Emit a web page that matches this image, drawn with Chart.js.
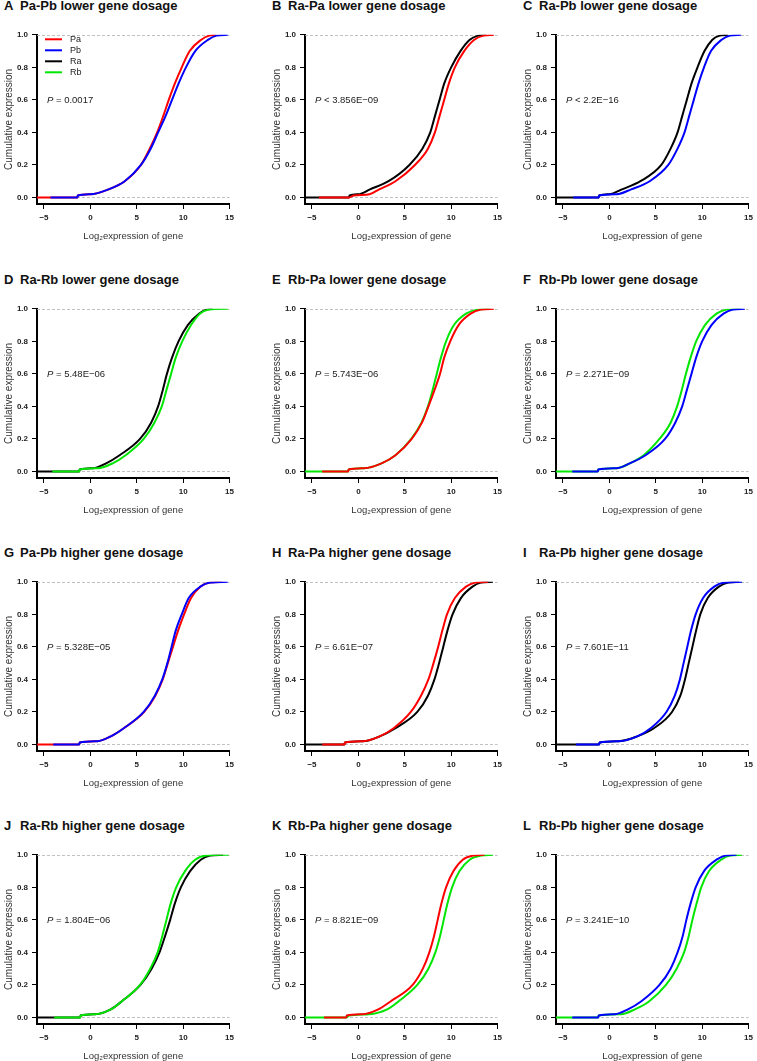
<!DOCTYPE html>
<html lang="en">
<head>
<meta charset="utf-8" />
<title>Cumulative expression by gene dosage</title>
<script src="https://cdn.jsdelivr.net/npm/chart.js@4.4.1/dist/chart.umd.min.js"></script>
<style>
  html, body { margin: 0; padding: 0; background: #fff; }
  body { width: 757px; height: 1061px; position: relative; overflow: hidden; font-family: "Liberation Sans", Arial, sans-serif; }
  .panel { position: absolute; width: 238px; height: 220px; }
  .title { position: absolute; font: bold 13px "Liberation Sans", Arial, sans-serif; line-height: 16px; color: #111; white-space: nowrap; }
  .title .letter { display: inline-block; width: 16px; }
</style>
</head>
<body>
<script>
const LEVELS = [0, 0, 0.012, 0.02, 0.05, 0.1, 0.2, 0.3, 0.4, 0.5, 0.6, 0.7, 0.8, 0.9, 0.97, 0.995, 1.0]
const X_TICKS = [-5, 0, 5, 10, 15]
const Y_TICKS = [0, 0.2, 0.4, 0.6, 0.8, 1.0]

const LETTERS = ['A', 'B', 'C', 'D', 'E', 'F', 'G', 'H', 'I', 'J', 'K', 'L']
const TITLES = [
  'Pa-Pb lower gene dosage', 'Ra-Pa lower gene dosage', 'Ra-Pb lower gene dosage',
  'Ra-Rb lower gene dosage', 'Rb-Pa lower gene dosage', 'Rb-Pb lower gene dosage',
  'Pa-Pb higher gene dosage', 'Ra-Pa higher gene dosage', 'Ra-Pb higher gene dosage',
  'Ra-Rb higher gene dosage', 'Rb-Pa higher gene dosage', 'Rb-Pb higher gene dosage',
]
const P_TEXT = [
  '= 0.0017', '< 3.856E\u221209', '< 2.2E\u221216',
  '= 5.48E\u221206', '= 5.743E\u221206', '= 2.271E\u221209',
  '= 5.328E\u221205', '= 6.61E\u221207', '= 7.601E\u221211',
  '= 1.804E\u221206', '= 8.821E\u221209', '= 3.241E\u221210',
]
// series per panel: [drawn underneath, drawn on top]
const PAIRS = [
  ['Pa', 'Pb'], ['Ra', 'Pa'], ['Ra', 'Pb'],
  ['Ra', 'Rb'], ['Rb', 'Pa'], ['Rb', 'Pb'],
  ['Pa', 'Pb'], ['Ra', 'Pa'], ['Ra', 'Pb'],
  ['Ra', 'Rb'], ['Rb', 'Pa'], ['Rb', 'Pb'],
]

// x (log2 expression) at each level in LEVELS
const A_Pa = [-5.75, -1.4, -1.35, 0.0, 1.95, 3.7, 5.45, 6.4, 7.2, 7.85, 8.45, 9.1, 9.85, 10.7, 11.95, 12.8, 13.6]
const A_Pb = [-4.3, -1.4, -1.35, 0.0, 1.95, 3.7, 5.45, 6.5, 7.3, 8.1, 8.8, 9.5, 10.3, 11.3, 12.7, 13.6, 14.8]
const B_Ra = [-5.75, -1.0, -0.95, 0.0, 1.25, 3.25, 5.5, 6.9, 7.75, 8.25, 8.75, 9.25, 10.0, 11.0, 12.0, 12.9, 13.75]
const B_Pa = [-4.25, -1.0, -0.5, 1.2, 2.25, 4.0, 6.1, 7.5, 8.25, 8.75, 9.25, 9.75, 10.4, 11.4, 12.5, 13.5, 14.6]
const C_Ra = [-5.75, -1.15, -1.1, 0.0, 1.35, 3.35, 5.6, 6.6, 7.35, 7.85, 8.35, 8.85, 9.5, 10.25, 11.1, 11.9, 12.8]
const C_Pb = [-3.9, -1.15, -1.1, 0.8, 2.35, 4.35, 6.35, 7.35, 8.1, 8.6, 9.1, 9.6, 10.2, 10.95, 12.1, 13.0, 14.2]
const D_Ra = [-5.75, -1.2, -1.15, 0.3, 1.7, 3.15, 5.35, 6.55, 7.3, 7.8, 8.25, 8.8, 9.5, 10.5, 11.7, 12.5, 13.2]
const D_Rb = [-4.1, -1.2, -1.15, 0.8, 2.4, 3.8, 5.75, 6.9, 7.7, 8.2, 8.7, 9.2, 9.9, 10.85, 11.8, 12.8, 14.8]
const E_Rb = [-5.75, -1.1, -1.05, 0.6, 2.5, 4.0, 5.7, 6.8, 7.5, 8.0, 8.45, 8.9, 9.45, 10.3, 11.6, 12.8, 14.2]
const E_Pa = [-3.9, -1.1, -1.05, 0.6, 2.5, 4.0, 5.75, 6.85, 7.55, 8.2, 8.8, 9.25, 9.9, 10.8, 12.1, 13.2, 14.6]
const F_Rb = [-5.75, -1.25, -1.2, 0.75, 2.2, 3.7, 5.4, 6.6, 7.3, 7.8, 8.25, 8.75, 9.35, 10.3, 11.55, 12.6, 14.1]
const F_Pb = [-4.0, -1.25, -1.2, 0.75, 2.2, 3.9, 6.0, 7.1, 7.85, 8.35, 8.85, 9.35, 10.0, 11.0, 12.3, 13.3, 14.6]
const G_Pa = [-5.75, -1.2, -1.15, 0.75, 2.2, 3.6, 5.8, 7.0, 7.8, 8.35, 8.9, 9.45, 10.1, 10.85, 11.85, 12.8, 14.2]
const G_Pb = [-4.0, -1.2, -1.15, 0.75, 2.2, 3.6, 5.75, 6.95, 7.75, 8.3, 8.75, 9.2, 9.85, 10.6, 11.85, 12.9, 14.8]
const H_Ra = [-5.75, -1.5, -1.45, 0.5, 2.3, 4.0, 6.35, 7.5, 8.2, 8.7, 9.15, 9.6, 10.15, 11.05, 12.3, 13.2, 14.5]
const H_Pa = [-3.9, -1.5, -1.45, 0.5, 2.3, 3.8, 5.65, 6.75, 7.55, 8.1, 8.6, 9.05, 9.55, 10.4, 11.6, 12.6, 14.0]
const I_Ra = [-5.75, -1.1, -1.05, 1.0, 3.0, 4.8, 6.75, 7.65, 8.15, 8.55, 8.95, 9.35, 9.8, 10.6, 11.8, 12.8, 14.0]
const I_Pb = [-3.6, -1.1, -1.05, 1.0, 3.0, 4.45, 6.15, 7.05, 7.6, 8.0, 8.4, 8.8, 9.3, 10.1, 11.3, 12.4, 14.3]
const J_Ra = [-5.75, -1.1, -1.05, 0.5, 2.2, 3.4, 5.4, 6.6, 7.45, 8.05, 8.6, 9.1, 9.75, 10.75, 11.9, 12.9, 14.3]
const J_Rb = [-3.9, -1.1, -1.05, 0.5, 2.2, 3.4, 5.35, 6.45, 7.25, 7.75, 8.2, 8.65, 9.25, 10.2, 11.3, 12.5, 14.9]
const K_Rb = [-5.75, -1.3, -1.0, 1.15, 3.1, 4.35, 6.35, 7.55, 8.3, 8.8, 9.2, 9.6, 10.1, 10.9, 12.0, 13.2, 14.5]
const K_Pa = [-3.7, -1.3, -1.25, 0.4, 2.15, 3.5, 5.85, 6.95, 7.65, 8.15, 8.55, 8.95, 9.45, 10.25, 11.25, 12.4, 13.6]
const L_Rb = [-5.75, -1.2, -1.15, 1.25, 2.75, 4.3, 6.1, 7.25, 8.05, 8.55, 8.95, 9.4, 9.9, 10.75, 12.05, 13.0, 14.3]
const L_Pb = [-4.0, -1.2, -1.15, 0.6, 2.0, 3.45, 5.4, 6.6, 7.35, 7.9, 8.3, 8.75, 9.3, 10.2, 11.55, 12.5, 13.7]

const CURVES = [
  [A_Pa, A_Pb], [B_Ra, B_Pa], [C_Ra, C_Pb],
  [D_Ra, D_Rb], [E_Rb, E_Pa], [F_Rb, F_Pb],
  [G_Pa, G_Pb], [H_Ra, H_Pa], [I_Ra, I_Pb],
  [J_Ra, J_Rb], [K_Rb, K_Pa], [L_Rb, L_Pb],
]

const COLORS = { Pa: '#ff0000', Pb: '#0000ff', Ra: '#000000', Rb: '#00e600' }
const LEGEND = ['Pa', 'Pb', 'Ra', 'Rb']

// layout (chart-area left edge per column, top per row)
const COL_LEFT = [37, 305, 556]
const ROW_TOP = [34, 308, 581, 854]
const AXIS_W = 37
const AXIS_H = 40
const PANEL_W = 238
const PANEL_H = 220

Chart.defaults.font.family = '"Liberation Sans", Arial, sans-serif'
Chart.defaults.color = '#222'

const refLines = {
  id: 'refLines',
  beforeDatasetsDraw(chart) {
    const { ctx, chartArea: a, scales: { y } } = chart
    ctx.save()
    ctx.strokeStyle = '#b0b0b0'
    ctx.lineWidth = 0.8
    ctx.setLineDash([3, 2])
    for (const v of [0, 1]) {
      const py = Math.round(y.getPixelForValue(v)) + 0.5
      ctx.beginPath()
      ctx.moveTo(a.left, py)
      ctx.lineTo(a.right, py)
      ctx.stroke()
    }
    ctx.restore()
  },
}

const notes = {
  id: 'notes',
  afterDatasetsDraw(chart, args, opts) {
    const { ctx, chartArea: a, scales: { y } } = chart
    ctx.save()
    ctx.fillStyle = '#222'
    ctx.textBaseline = 'middle'
    const py = y.getPixelForValue(0.6)
    ctx.font = 'italic 9.5px "Liberation Sans", Arial, sans-serif'
    ctx.fillText('P', a.left + 10, py)
    const w = ctx.measureText('P ').width
    ctx.font = '9.5px "Liberation Sans", Arial, sans-serif'
    ctx.fillText(opts.p, a.left + 10 + w, py)
    if (opts.legend) {
      ctx.font = '9px "Liberation Sans", Arial, sans-serif'
      LEGEND.forEach((name, i) => {
        const ly = a.top + 4.5 + i * 11
        ctx.strokeStyle = COLORS[name]
        ctx.lineWidth = 2
        ctx.beginPath()
        ctx.moveTo(a.left + 8, ly)
        ctx.lineTo(a.left + 25, ly)
        ctx.stroke()
        ctx.fillText(name, a.left + 33, ly)
      })
    }
    ctx.restore()
  },
}

function makePanel(i) {
  const col = i % 3
  const row = Math.floor(i / 3)
  const left = COL_LEFT[col]
  const top = ROW_TOP[row]

  const title = document.createElement('div')
  title.className = 'title'
  title.style.left = (left - 33) + 'px'
  title.style.top = (top - 36) + 'px'
  title.innerHTML = `<span class="letter">${LETTERS[i]}</span>${TITLES[i]}`
  document.body.appendChild(title)

  const box = document.createElement('div')
  box.className = 'panel'
  box.style.left = (left - AXIS_W) + 'px'
  box.style.top = (top - 8) + 'px'
  const canvas = document.createElement('canvas')
  canvas.width = PANEL_W
  canvas.height = PANEL_H
  box.appendChild(canvas)
  document.body.appendChild(box)

  const [under, over] = PAIRS[i]
  const [xsUnder, xsOver] = CURVES[i]
  const mk = (name, xs, order) => ({
    label: name,
    data: xs.map((x, k) => ({ x, y: LEVELS[k] })),
    borderColor: COLORS[name],
    borderWidth: 2,
    pointRadius: 0,
    cubicInterpolationMode: 'monotone',
    order,
  })

  new Chart(canvas, {
    type: 'line',
    data: { datasets: [mk(under, xsUnder, 1), mk(over, xsOver, 0)] },
    options: {
      responsive: false,
      animation: false,
      events: [],
      layout: { padding: { top: 8, right: 6, bottom: 2, left: 0 } },
      plugins: {
        legend: { display: false },
        tooltip: { enabled: false },
        notes: { p: P_TEXT[i], legend: i === 0 },
      },
      scales: {
        x: {
          type: 'linear',
          min: -5.75,
          max: 15,
          afterBuildTicks: (s) => { s.ticks = X_TICKS.map((v) => ({ value: v })) },
          afterFit: (s) => { s.height = AXIS_H },
          ticks: {
            font: { size: 8, weight: 'bold' },
            padding: 4,
            maxRotation: 0,
            callback: (v) => String(v).replace('-', '\u2212'),
          },
          grid: { drawOnChartArea: false, tickLength: 5, tickColor: '#000', tickWidth: 1 },
          border: { color: '#000', width: 2 },
          title: {
            display: true,
            text: 'Log\u2082expression of gene',
            font: { size: 9.5 },
            color: '#333',
            padding: { top: 0, bottom: 2 },
          },
        },
        y: {
          min: -0.04,
          max: 1.0,
          afterBuildTicks: (s) => { s.ticks = Y_TICKS.map((v) => ({ value: v })) },
          afterFit: (s) => { s.width = AXIS_W },
          ticks: {
            font: { size: 8, weight: 'bold' },
            padding: 4,
            callback: (v) => v.toFixed(1),
          },
          grid: { drawOnChartArea: false, tickLength: 5, tickColor: '#000', tickWidth: 1 },
          border: { color: '#000', width: 2 },
          title: {
            display: true,
            text: 'Cumulative expression',
            font: { size: 10 },
            color: '#333',
            padding: { top: 3, bottom: 0 },
          },
        },
      },
    },
    plugins: [refLines, notes],
  })
}

for (let i = 0; i < 12; i++) makePanel(i)
</script>
</body>
</html>
